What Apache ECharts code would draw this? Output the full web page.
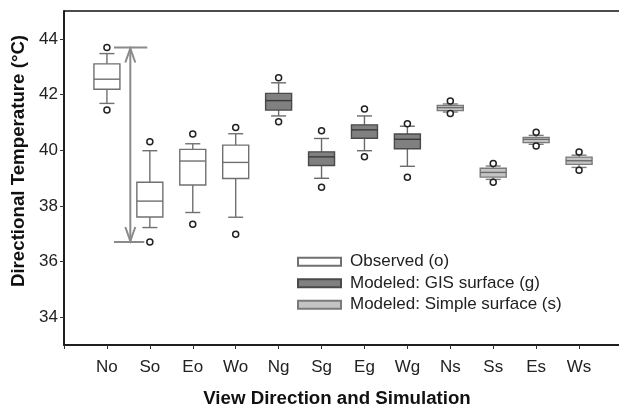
<!DOCTYPE html>
<html>
<head>
<meta charset="utf-8">
<script src="https://cdn.jsdelivr.net/npm/echarts@6/dist/echarts.min.js"></script>
<style>html,body{margin:0;padding:0;background:#fff}#c{width:619px;height:405px}</style>
</head>
<body>
<div id="c"></div>
<script>
var categories = ['No','So','Eo','Wo','Ng','Sg','Eg','Wg','Ns','Ss','Es','Ws'];
var groups     = ['o','o','o','o','g','g','g','g','s','s','s','s'];
var lowOutlier  = [41.44,36.70,37.34,36.98,41.02,38.67,39.76,39.03,41.32,38.85,40.15,39.28];
var lowWhisker  = [41.68,37.22,37.76,37.59,41.23,38.99,39.98,39.42,41.37,38.95,40.21,39.38];
var q1          = [42.19,37.60,38.75,38.98,41.44,39.45,40.43,40.05,41.42,39.03,40.27,39.49];
var median      = [42.55,38.17,39.61,39.56,41.78,39.76,40.73,40.39,41.53,39.20,40.39,39.62];
var q3          = [43.10,38.85,40.03,40.18,42.04,39.94,40.91,40.58,41.61,39.35,40.46,39.75];
var highWhisker = [43.47,39.98,40.23,40.59,42.42,40.42,41.23,40.86,41.66,39.43,40.53,39.82];
var highOutlier = [43.69,40.30,40.58,40.81,42.60,40.70,41.48,40.95,41.77,39.52,40.64,39.93];
var yTicks = [34,36,38,40,42,44];
var legendNames = {o:'Observed (o)', g:'Modeled: GIS surface (g)', s:'Modeled: Simple surface (s)'};

var styles = {
  o: {fill:'#ffffff', border:'#707070', med:'#707070', whisk:'#707070'},
  g: {fill:'#808080', border:'#4a4a4a', med:'#3a3a3a', whisk:'#6a6a6a'},
  s: {fill:'#c4c4c4', border:'#7a7a7a', med:'#6a6a6a', whisk:'#7a7a7a'}
};

function dataFor(g){
  var out = [];
  for (var i=0;i<categories.length;i++){
    if (groups[i]!==g) continue;
    out.push([i+1, lowOutlier[i], lowWhisker[i], q1[i], median[i], q3[i], highWhisker[i], highOutlier[i]]);
  }
  return out;
}

function makeRender(g){
  var st = styles[g];
  return function(params, api){
    var x = api.value(0);
    var pLo = api.coord([x, api.value(1)]);
    var pWl = api.coord([x, api.value(2)]);
    var pQ1 = api.coord([x, api.value(3)]);
    var pMd = api.coord([x, api.value(4)]);
    var pQ3 = api.coord([x, api.value(5)]);
    var pWh = api.coord([x, api.value(6)]);
    var pHi = api.coord([x, api.value(7)]);
    var cx = pMd[0], bw = 26, cw = 15;
    var lw = 1.4;
    var ws = {stroke: st.whisk, lineWidth: lw};
    return {type:'group', children:[
      {type:'line', shape:{x1:cx,y1:pWh[1],x2:cx,y2:pQ3[1]}, style:ws},
      {type:'line', shape:{x1:cx,y1:pQ1[1],x2:cx,y2:pWl[1]}, style:ws},
      {type:'line', shape:{x1:cx-cw/2,y1:pWh[1],x2:cx+cw/2,y2:pWh[1]}, style:ws},
      {type:'line', shape:{x1:cx-cw/2,y1:pWl[1],x2:cx+cw/2,y2:pWl[1]}, style:ws},
      {type:'rect', shape:{x:cx-bw/2,y:pQ3[1],width:bw,height:pQ1[1]-pQ3[1]}, style:{fill:st.fill, stroke:st.border, lineWidth:lw}},
      {type:'line', shape:{x1:cx-bw/2,y1:pMd[1],x2:cx+bw/2,y2:pMd[1]}, style:{stroke:st.med, lineWidth:lw}},
      {type:'circle', shape:{cx:cx,cy:pHi[1],r:3}, style:{fill:'#fff', stroke:'#222', lineWidth:1.5}},
      {type:'circle', shape:{cx:cx,cy:pLo[1],r:3}, style:{fill:'#fff', stroke:'#222', lineWidth:1.5}}
    ]};
  };
}

function arrowRender(params, api){
  var top = api.coord([1.545, highOutlier[0]]);
  var bot = api.coord([1.545, lowOutlier[1]]);
  var l = api.coord([1.165, 0])[0], r = api.coord([1.94, 0])[0];
  var c = '#8a8a8a', s = {stroke:c, lineWidth:2, fill:null};
  var ax = top[0];
  return {type:'group', children:[
    {type:'line', shape:{x1:l,y1:top[1],x2:r,y2:top[1]}, style:s},
    {type:'line', shape:{x1:l,y1:bot[1],x2:r-3,y2:bot[1]}, style:s},
    {type:'line', shape:{x1:ax,y1:top[1]+1,x2:ax,y2:bot[1]-1}, style:s},
    {type:'polyline', shape:{points:[[ax-5,top[1]+15],[ax,top[1]+1],[ax+5,top[1]+15]]}, style:s},
    {type:'polyline', shape:{points:[[ax-5,bot[1]-15],[ax,bot[1]-1],[ax+5,bot[1]-15]]}, style:s}
  ]};
}

var font = 'Liberation Sans, Arial, Helvetica, sans-serif';
var series = ['o','g','s'].map(function(g){
  return {
    name: legendNames[g], type:'custom', renderItem: makeRender(g),
    data: dataFor(g), encode:{x:0, y:[1,2,3,4,5,6,7]},
    itemStyle:{color:styles[g].fill, borderColor:styles[g].border, borderWidth:1.2},
    silent:true, animation:false, clip:false
  };
});
series.push({name:'arrow', type:'custom', renderItem: arrowRender, data:[[1.545, highOutlier[0]]], encode:{x:0,y:1}, silent:true, animation:false, z:1});

var chart = echarts.init(document.getElementById('c'), null, {renderer:'canvas'});
chart.setOption({
  animation:false,
  textStyle:{fontFamily:font},
  grid:{left:64, top:11, width:558, bottom:60, outerBoundsMode:'none', containLabel:false, show:true, borderColor:'#111', borderWidth:1.5, backgroundColor:'transparent'},
  legend:{
    data: [legendNames.o, legendNames.g, legendNames.s],
    orient:'vertical', left:297, top:253, padding:0, itemWidth:43, itemHeight:8, itemGap:4,
    icon:'rect', textStyle:{fontSize:17, lineHeight:17.5, color:'#222', fontFamily:font, padding:[0,0,0,4]}, selectedMode:false
  },
  xAxis:{
    type:'value', min:0, max:13, interval:1,
    axisLine:{show:true, lineStyle:{color:'#111', width:1.5}},
    axisTick:{show:true, length:4, lineStyle:{color:'#333'}},
    axisLabel:{fontSize:17, color:'#222', margin:14, fontFamily:font,
      formatter:function(v){ return (v>=1 && v<=12) ? categories[v-1] : ''; }},
    splitLine:{show:false},
    name:'View Direction and Simulation', nameLocation:'middle', nameGap:44,
    nameTextStyle:{fontSize:18.7, fontWeight:'bold', color:'#111', fontFamily:font, padding:[0,12,0,0]}
  },
  yAxis:{
    type:'value', min:33, max:45,
    axisLine:{show:true, lineStyle:{color:'#111', width:1.5}},
    axisTick:{show:true, length:4, customValues:yTicks, lineStyle:{color:'#333'}},
    axisLabel:{fontSize:17, color:'#222', margin:6, customValues:yTicks, fontFamily:font},
    splitLine:{show:false},
    name:'Directional Temperature (°C)', nameLocation:'middle', nameGap:29,
    nameTextStyle:{fontSize:18.7, fontWeight:'bold', color:'#111', fontFamily:font, padding:[0,0,0,34]}
  },
  series: series
});
</script>
</body>
</html>
